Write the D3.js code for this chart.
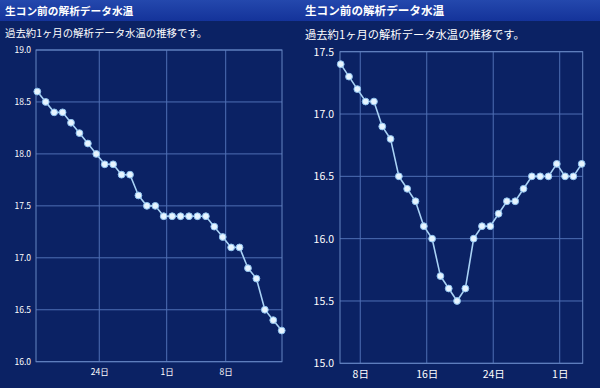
<!DOCTYPE html>
<html lang="ja">
<head>
<meta charset="UTF-8">
<title>生コン前の解析データ水温</title>
<script src="https://cdn.jsdelivr.net/npm/d3@7/dist/d3.min.js"></script>
<style>
  body { margin: 0; background: #0b2264; }
  svg { display: block; }
  text { font-family: "Noto Sans CJK JP", Roboto, sans-serif; }
</style>
</head>
<body>
<svg width="600" height="388"></svg>
<script>
// left panel data (daily, one reading per day)
const leftDates = [
  "2023-10-16","2023-10-17","2023-10-18","2023-10-19","2023-10-20","2023-10-21",
  "2023-10-22","2023-10-23","2023-10-24","2023-10-25","2023-10-26","2023-10-27",
  "2023-10-28","2023-10-29","2023-10-30","2023-10-31","2023-11-01","2023-11-02",
  "2023-11-03","2023-11-04","2023-11-05","2023-11-06","2023-11-07","2023-11-08",
  "2023-11-09","2023-11-10","2023-11-11","2023-11-12","2023-11-13","2023-11-14"];
const leftValues = [18.6,18.5,18.4,18.4,18.3,18.2,18.1,18.0,17.9,17.9,17.8,17.8,
  17.6,17.5,17.5,17.4,17.4,17.4,17.4,17.4,17.4,17.3,17.2,17.1,17.1,16.9,16.8,16.5,16.4,16.3];
const leftXTicks = ["2023-10-24","2023-11-01","2023-11-08"];
const leftYTicks = [16.0,16.5,17.0,17.5,18.0,18.5,19.0];

// right panel data
const rightDates = [
  "2023-12-05","2023-12-06","2023-12-07","2023-12-08","2023-12-09","2023-12-10",
  "2023-12-11","2023-12-12","2023-12-13","2023-12-14","2023-12-15","2023-12-16",
  "2023-12-17","2023-12-18","2023-12-19","2023-12-20","2023-12-21","2023-12-22",
  "2023-12-23","2023-12-24","2023-12-25","2023-12-26","2023-12-27","2023-12-28",
  "2023-12-29","2023-12-30","2023-12-31","2024-01-01","2024-01-02","2024-01-03"];
const rightValues = [17.4,17.3,17.2,17.1,17.1,16.9,16.8,16.5,16.4,16.3,16.1,16.0,
  15.7,15.6,15.5,15.6,16.0,16.1,16.1,16.2,16.3,16.3,16.4,16.5,16.5,16.5,16.6,16.5,16.5,16.6];
const rightXTicks = ["2023-12-08","2023-12-16","2023-12-24","2024-01-01"];
const rightYTicks = [15.0,15.5,16.0,16.5,17.0,17.5];

const title = "生コン前の解析データ水温";
const subtitle = "過去約1ヶ月の解析データ水温の推移です。";

const svg = d3.select("svg");
const defs = svg.append("defs");
const grad = defs.append("linearGradient").attr("id", "hdr")
  .attr("x1", 0).attr("y1", 0).attr("x2", 0).attr("y2", 1);
grad.append("stop").attr("offset", "0%").attr("stop-color", "#2448ad");
grad.append("stop").attr("offset", "100%").attr("stop-color", "#14339a");

svg.append("rect").attr("x", 0).attr("y", 0).attr("width", 600).attr("height", 21)
  .attr("fill", "url(#hdr)");

const parseDay = d3.timeParse("%Y-%m-%d");
const parsePoint = d3.timeParse("%Y-%m-%dT%H:%M");

function drawPanel(cfg) {
  const g = svg.append("g");
  g.append("text").attr("x", cfg.x0 + 5).attr("y", 14.5)
    .attr("fill", "#fff").attr("font-weight", "bold").attr("font-size", cfg.font + 0.3)
    .text(title);
  g.append("text").attr("x", cfg.x0 + 5).attr("y", cfg.subY)
    .attr("fill", "#fff").attr("font-size", cfg.font)
    .text(subtitle);

  const data = cfg.dates.map((d, i) => ({date: parsePoint(d + "T15:30"), v: cfg.values[i]}));
  const x = d3.scaleTime().domain(d3.extent(data, d => d.date)).range(cfg.xRange);
  const y = d3.scaleLinear().domain(d3.extent(cfg.yTicks)).range([cfg.bottom, cfg.top]);
  const left = cfg.plotX[0], right = cfg.plotX[1];

  // gridlines
  g.append("g").selectAll("line.h").data(cfg.yTicks).join("line")
    .attr("x1", left).attr("x2", right)
    .attr("y1", d => y(d)).attr("y2", d => y(d))
    .attr("stroke", "#4f6fb4").attr("stroke-width", 1);
  const xt = cfg.xTicks.map(parseDay);
  g.append("g").selectAll("line.v").data(xt).join("line")
    .attr("x1", d => x(d)).attr("x2", d => x(d))
    .attr("y1", cfg.top).attr("y2", cfg.bottom)
    .attr("stroke", "#4f6fb4").attr("stroke-width", 1);
  g.append("rect").attr("x", left).attr("y", cfg.top)
    .attr("width", right - left).attr("height", cfg.bottom - cfg.top)
    .attr("fill", "none").attr("stroke", "#6685c2").attr("stroke-width", 1);

  // axes
  const ya = g.append("g").attr("transform", `translate(${left},0)`)
    .call(d3.axisLeft(y).tickValues(cfg.yTicks).tickFormat(d3.format(".1f")).tickSize(0).tickPadding(cfg.yPad));
  const xa = g.append("g").attr("transform", `translate(0,${cfg.bottom})`)
    .call(d3.axisBottom(x).tickValues(xt).tickFormat(d3.timeFormat("%-d日")).tickSize(0).tickPadding(cfg.xPad));
  [ya, xa].forEach(a => {
    a.select(".domain").remove();
    a.selectAll("text").attr("fill", "#fff").attr("font-size", cfg.tickFont)
      .attr("font-family", "Roboto, 'Noto Sans CJK JP', sans-serif");
  });

  // line + markers
  g.append("path").datum(data)
    .attr("fill", "none").attr("stroke", "#a9d2f5").attr("stroke-width", 1.6)
    .attr("d", d3.line().x(d => x(d.date)).y(d => y(d.v)));
  g.append("g").selectAll("circle").data(data).join("circle")
    .attr("cx", d => x(d.date)).attr("cy", d => y(d.v)).attr("r", 3.4)
    .attr("fill", "#e6f4ff").attr("stroke", "#8fc2ee").attr("stroke-width", 1);
}

drawPanel({x0: 0, font: 10.4, subY: 37, dates: leftDates, values: leftValues,
  xTicks: leftXTicks, yTicks: leftYTicks, plotX: [36, 282], xRange: [37.3, 281.7],
  top: 50, bottom: 361.7, tickFont: 8.5, yPad: 5, xPad: 7});
drawPanel({x0: 300, font: 11.3, subY: 39, dates: rightDates, values: rightValues,
  xTicks: rightXTicks, yTicks: rightYTicks, plotX: [340, 582.7], xRange: [340.7, 581.7],
  top: 51.7, bottom: 363.3, tickFont: 10.5, yPad: 6, xPad: 7});
</script>
</body>
</html>
